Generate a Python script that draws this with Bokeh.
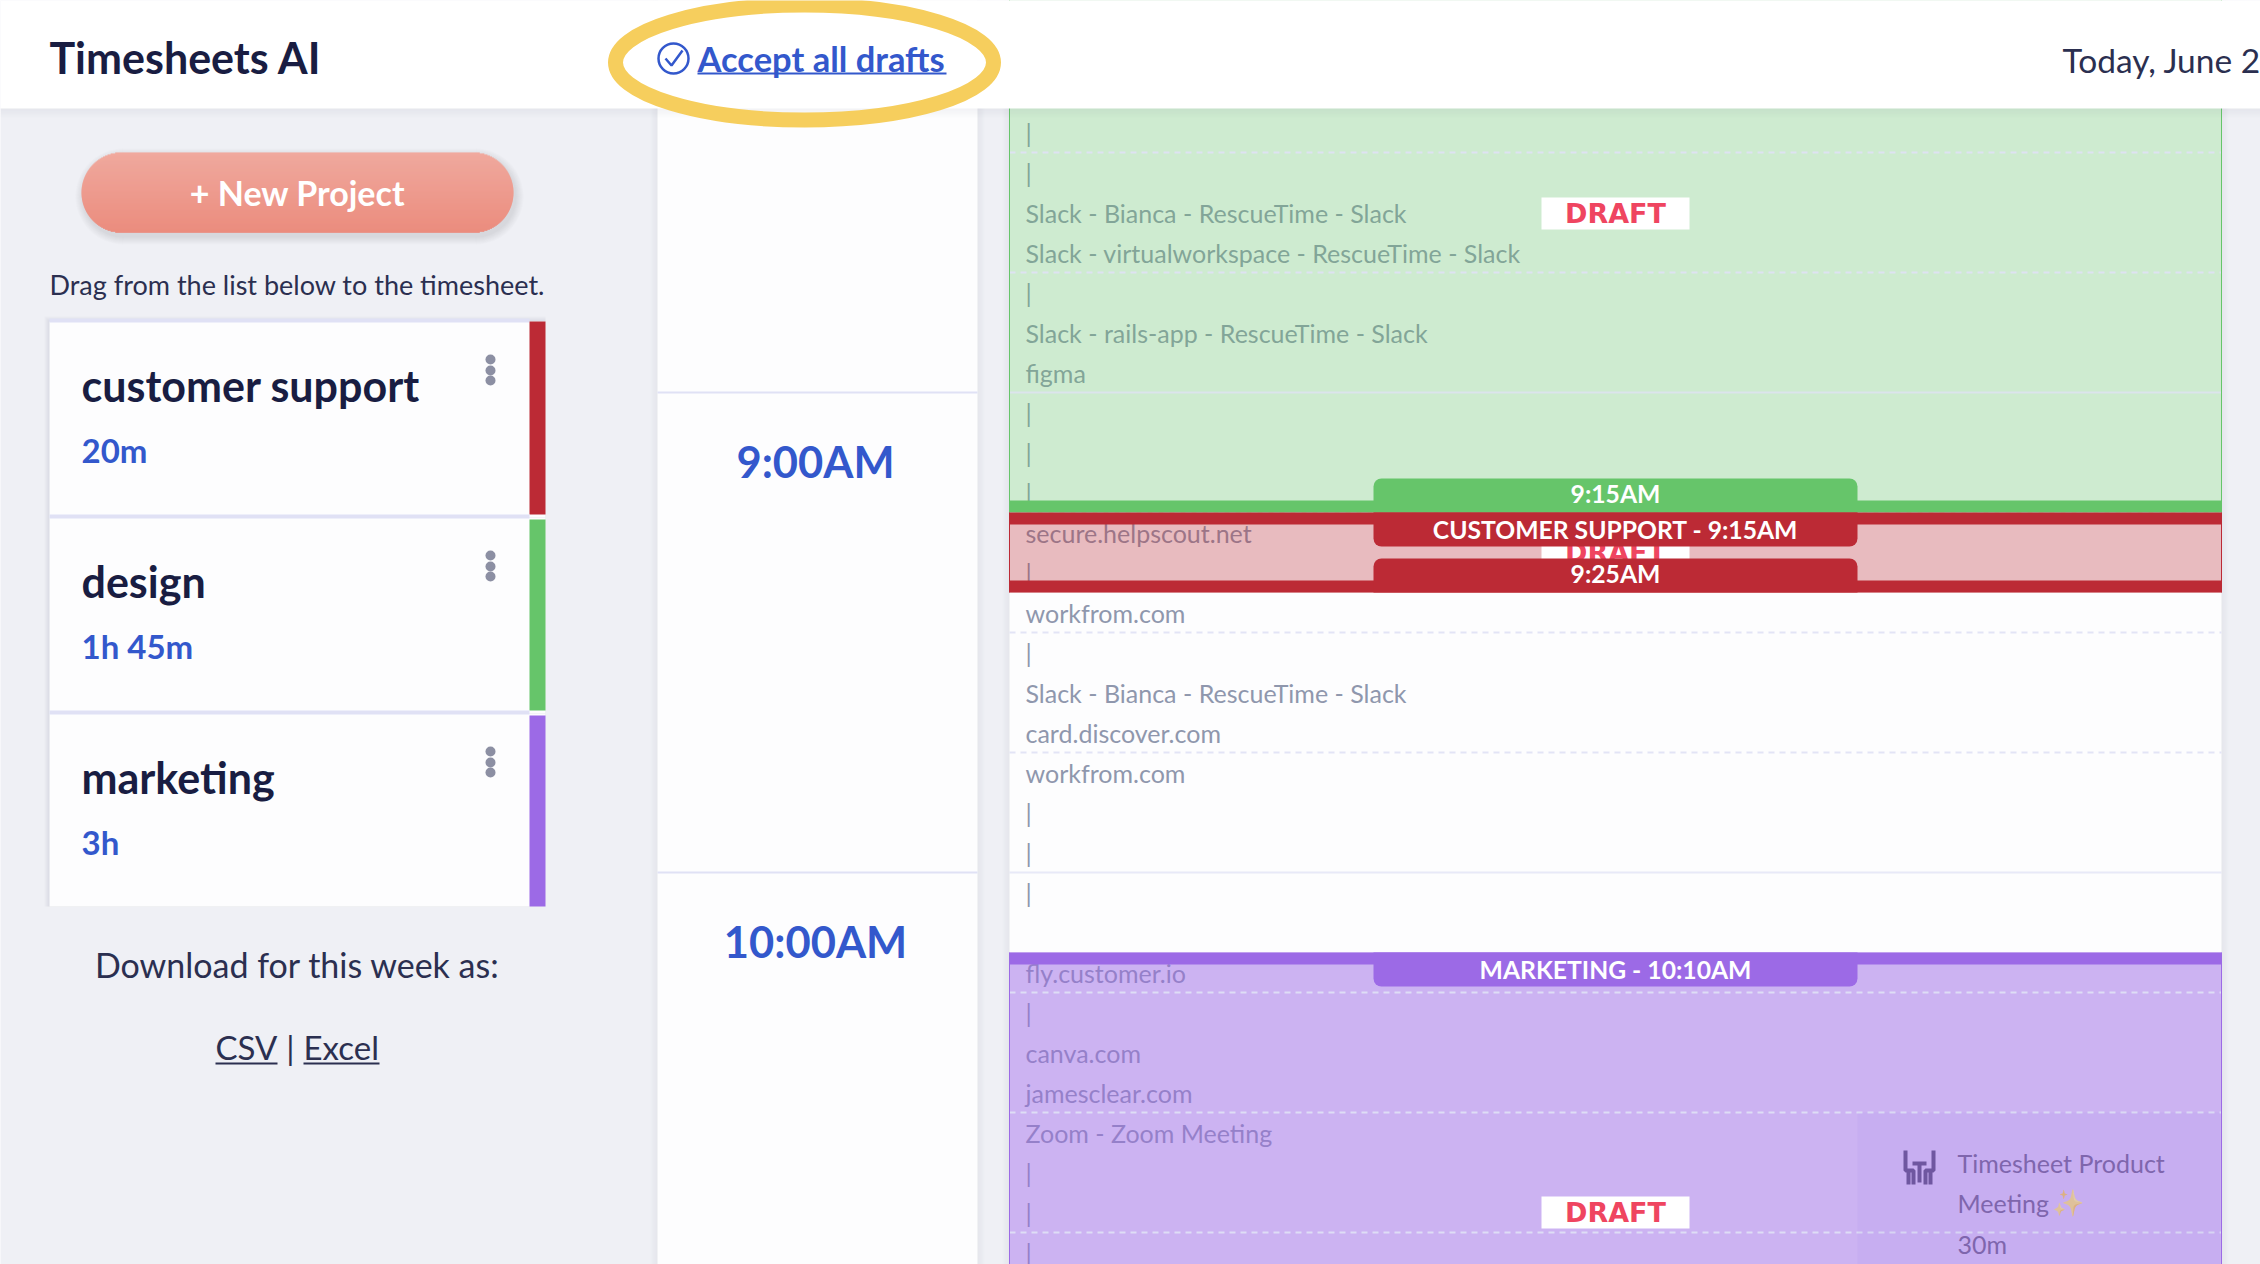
from bokeh.core.properties import value
from bokeh.embed import file_html
from bokeh.models import Range1d
from bokeh.plotting import figure
from bokeh.resources import INLINE

# the data: projects on the left, the hour column, the activity log, the blocks
project_names = ["customer support", "design", "marketing"]
project_times = ["20m", "1h 45m", "3h"]
hour_labels = ["9:00AM", "10:00AM"]
hour_starts = ["9:00", "10:00"]

log_times = ["8:25", "8:30", "8:35", "8:40", "8:45", "8:50", "8:55", "9:00", "9:05", "9:10",
             "9:15", "9:20", "9:25", "9:30", "9:35", "9:40", "9:45", "9:50", "9:55", "10:00",
             "10:10", "10:15", "10:20", "10:25", "10:30", "10:35", "10:40", "10:45"]
log_titles = ["|", "|", "Slack - Bianca - RescueTime - Slack", "Slack - virtualworkspace - RescueTime - Slack",
              "|", "Slack - rails-app - RescueTime - Slack", "figma", "|", "|", "|",
              "secure.helpscout.net", "|", "workfrom.com", "|", "Slack - Bianca - RescueTime - Slack",
              "card.discover.com", "workfrom.com", "|", "|", "|",
              "fly.customer.io", "|", "canva.com", "jamesclear.com", "Zoom - Zoom Meeting", "|", "|", "|"]

block_starts = ["8:00", "9:15", "10:10"]
block_ends = ["9:15", "9:25", "11:00"]
block_top_labels = [None, "CUSTOMER SUPPORT - 9:15AM", "MARKETING - 10:10AM"]
block_end_labels = ["9:15AM", "9:25AM", None]

meeting_start = "10:30"
meeting_lines = ["Timesheet Product", "Meeting", "30m"]

# colours
BG = "#eff0f5"
DARK = "#191d42"
BLUE = "#3358cc"
GREY = "#8f97ad"
TEXT = "#2b2f50"
LINE = "#e0e1f5"
YELLOW = "#f6ce5d"
PROJECT_COLORS = ["#bc2a35", "#66c56a", "#9c6ae6"]
BLOCK_COLORS = ["#66c56a", "#bc2a35", "#9c6ae6"]
BLOCK_ALPHA = [0.31, 0.31, 0.5]
FONT = "Lato"

W, H = 2260, 1264
p = figure(width=W, height=H, output_backend="svg", toolbar_location=None, tools="",
           x_range=Range1d(0, W), y_range=Range1d(H, 0),
           x_axis_type=None, y_axis_type=None, min_border=0,
           background_fill_color=BG, outline_line_color=None)
p.grid.visible = False
p.extra_y_ranges = {"time": Range1d(649, 491)}  # minutes of the day, 8px a minute


def mins(t):
    h, m = t.split(":")
    return int(h) * 60 + int(m)


def label(x, y, text, size, color=DARK, style="normal", align="left", alpha=1.0, font=FONT, **kw):
    p.text([x], [y], text=[text], text_font=value(font), text_font_size=f"{size}px", text_color=color,
           text_font_style=style, text_align=align, text_baseline="middle", text_alpha=alpha, **kw)


COL_L, COL_R = 657, 977
GRID_L, GRID_R = 1009, 2221
TAB_L, TAB_R = 1373, 1857
TOP = 108

# columns and their soft side shadows
for i in range(8):
    for x in (COL_L - i, COL_R + i, GRID_L - i, GRID_R + i):
        p.segment([x], [0], [x], [H], line_color="#5a6078", line_alpha=0.035 * (8 - i) / 4)
p.quad(left=[COL_L], right=[COL_R], top=[0], bottom=[H], fill_color="#fdfdfe", line_color=None)
p.quad(left=[GRID_L], right=[GRID_R], top=[0], bottom=[H], fill_color="#fdfdfe", line_color=None)

# hour lines and labels
for lbl, start in zip(hour_labels, hour_starts):
    m = mins(start)
    p.segment([COL_L], [m], [COL_R], [m], line_color=LINE, line_width=2, y_range_name="time")
    label(815, m + 8.6, lbl, 43.5, BLUE, "bold", "center", y_range_name="time")

# activity log
for t, title in zip(log_times, log_titles):
    label(1025, mins(t) + 2.5, title, 25, GREY, y_range_name="time")

# the tint of each block goes over the log text
for start, end, color, alpha in zip(block_starts, block_ends, BLOCK_COLORS, BLOCK_ALPHA):
    p.quad(left=[GRID_L], right=[GRID_R], top=[mins(start)], bottom=[mins(end)], fill_color=color,
           fill_alpha=alpha, line_color=None, y_range_name="time")

# quarter hour dashes and hour lines stay light on top of the tint
for m in range(mins("8:15"), mins("11:00"), 15):
    if m % 60:
        p.line([GRID_L, GRID_R], [m, m], line_color=LINE, line_width=2, line_alpha=0.9,
               line_dash=[6, 5], y_range_name="time")
    else:
        p.line([GRID_L, GRID_R], [m, m], line_color=LINE, line_width=2, line_alpha=0.75, y_range_name="time")

# the meeting panel
m0 = mins(meeting_start)
p.quad(left=[TAB_R], right=[GRID_R - 1], top=[m0], bottom=[650], fill_color="#8c6fe0", fill_alpha=0.08,
       line_color=None, y_range_name="time")
MEET = "#7f66ad"
for line, dy in zip(meeting_lines, [6.3, 11.3, 16.4]):
    label(1957, m0 + dy, line, 25, MEET, y_range_name="time")
label(2051, m0 + 11.3, "\u2728", 26, "#d3aab4", alpha=0.45, font="DejaVu Sans", y_range_name="time")
# table and two people icon
for xs, ys in [([1905, 1905, 1913, 1913], [1150, 1170, 1170, 1184]),
               ([1933, 1933, 1925, 1925], [1150, 1170, 1170, 1184]),
               ([1912, 1926], [1163, 1163]), ([1919, 1919], [1163, 1182]),
               ([1908, 1908], [1170, 1184]), ([1930, 1930], [1170, 1184])]:
    p.line(xs, ys, line_color="#6f57a0", line_width=4)

for draft_y in (213, 552, 1212):
    p.quad(left=[1541], right=[1689], top=[draft_y - 16], bottom=[draft_y + 16], fill_color="white", line_color=None)
    label(1615, draft_y, "DRAFT", 27, "#ef4560", "bold", "center", font="DejaVu Sans")

# bands and tabs of every block
for start, end, color, top_lbl, end_lbl in zip(block_starts, block_ends, BLOCK_COLORS,
                                               block_top_labels, block_end_labels):
    ms, me = mins(start), mins(end)
    p.segment([GRID_L, GRID_R], [ms, ms], [GRID_L, GRID_R], [me, me], line_color=color, line_width=1,
              y_range_name="time")
    if top_lbl:
        p.quad(left=[GRID_L], right=[GRID_R], top=[ms], bottom=[ms + 1.5], fill_color=color, line_color=None,
               y_range_name="time")
        p.quad(left=[TAB_L], right=[TAB_R], top=[ms], bottom=[ms + 4.25], fill_color=color, line_color=None,
               border_radius=(0, 0, 8, 8), y_range_name="time")
        label((TAB_L + TAB_R) / 2, ms + 2.1, top_lbl, 24.7, "white", "bold", "center", y_range_name="time")
    if end_lbl:
        p.quad(left=[GRID_L], right=[GRID_R], top=[me - 1.5], bottom=[me], fill_color=color, line_color=None,
               y_range_name="time")
        p.quad(left=[TAB_L], right=[TAB_R], top=[me - 4.25], bottom=[me], fill_color=color, line_color=None,
               border_radius=(8, 8, 0, 0), y_range_name="time")
        label((TAB_L + TAB_R) / 2, me - 2.4, end_lbl, 24.7, "white", "bold", "center", y_range_name="time")

# left panel: the button with its gradient and shadow
BX0, BX1, BY0, BY1 = 81, 513, 152, 232
R = (BY1 - BY0) // 2
for i in range(8, 0, -1):
    p.quad(left=[BX0 - i + 2], right=[BX1 + i + 2], top=[BY0 + 4 - i], bottom=[BY1 + 4 + i], fill_color="#6a5a60",
           fill_alpha=0.02, line_color=None, border_radius=R + i)
n = BY1 - BY0
for i in range(n):
    y = i + 0.5 - R
    inset = R - (R * R - y * y) ** 0.5
    f = i / n
    c = "#%02x%02x%02x" % (round(243 - 5 * f), round(162 - 33 * f), round(148 - 36 * f))
    p.quad(left=[BX0 + inset], right=[BX1 - inset], top=[BY0 + i], bottom=[BY0 + i + 1.3], fill_color=c, line_color=None)
label(297, 192, "+ New Project", 34, "white", "bold", "center")
label(49, 284, "Drag from the list below to the timesheet.", 27, TEXT)

# project cards
CARD_L, CARD_R, STRIP_L, CARD_TOP, CARD_H = 49, 545, 529, 321, 196
CARDS_END = 906
for i in range(6):
    p.quad(left=[CARD_L - i], right=[CARD_R], top=[CARD_TOP - i], bottom=[CARDS_END], fill_color="#5a6078",
           fill_alpha=0.025, line_color=None)
for i, (name, dur, color) in enumerate(zip(project_names, project_times, PROJECT_COLORS)):
    top = CARD_TOP + i * CARD_H
    p.quad(left=[CARD_L], right=[CARD_R], top=[top], bottom=[min(top + CARD_H, CARDS_END)], fill_color="#fdfdfe",
           line_color=None)
    p.quad(left=[CARD_L], right=[STRIP_L], top=[top - 3], bottom=[top + 1], fill_color=LINE, line_color=None)
    p.quad(left=[STRIP_L], right=[CARD_R], top=[top + 2 * min(i, 1)], bottom=[min(top + 193, CARDS_END)],
           fill_color=color, line_color=None)
    label(81, top + 64, name, 43, DARK, "bold")
    label(81, top + 128, dur, 33, BLUE, "bold")
    p.scatter([490] * 3, [top + 38, top + 49, top + 59], size=10, marker="circle", fill_color="#8c8fa3", line_color=None)

label(297, 964, "Download for this week as:", 34, TEXT, align="center")
label(215, 1046, "CSV", 33, TEXT)
label(290, 1046, "|", 33, TEXT, align="center")
label(303, 1046, "Excel", 33, TEXT)
p.segment([215, 303], [1063, 1063], [277, 379], [1063, 1063], line_color=TEXT, line_width=2)

# header
for i in range(10):
    p.segment([0], [TOP + i], [W], [TOP + i], line_color="#5a6078", line_alpha=0.07 * (10 - i) / 10, line_width=1)
p.quad(left=[-5], right=[W + 5], top=[-5], bottom=[TOP], fill_color="white", line_color=None)
label(49, 57, "Timesheets AI", 43, DARK, "bold")
label(2062, 59, "Today, June 2", 33.5, TEXT)
p.ellipse([804], [62], width=[378], height=[115], fill_color=None, line_color=YELLOW, line_width=15)
p.circle([673], [58], radius=15, radius_units="screen", fill_color=None, line_color=BLUE, line_width=2.5)
p.line([665, 671, 682], [58, 65, 50], line_color=BLUE, line_width=2.5)
label(697, 58, "Accept all drafts", 34.5, BLUE, "bold")
p.segment([697], [73], [946], [73], line_color=BLUE, line_width=2)

open("out.html", "w").write(file_html(p, INLINE))
